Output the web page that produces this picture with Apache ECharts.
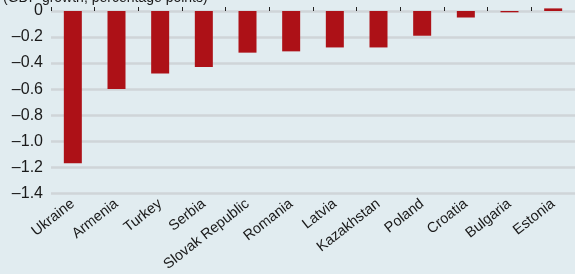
<!DOCTYPE html>
<html><head><meta charset="utf-8">
<script src="https://cdn.jsdelivr.net/npm/echarts@6/dist/echarts.min.js"></script>
<style>html,body{margin:0;padding:0;background:#e1ecf0;}#c{width:575px;height:274px;}</style>
</head><body><div id="c"></div>
<script>
const categories = ["Ukraine","Armenia","Turkey","Serbia","Slovak Republic","Romania","Latvia","Kazakhstan","Poland","Croatia","Bulgaria","Estonia"];
const values = [-1.17,-0.60,-0.48,-0.43,-0.32,-0.31,-0.28,-0.28,-0.19,-0.05,-0.01,0.02];
const subtitle = "(GDP growth, percentage points)";
const chart = echarts.init(document.getElementById('c'));
chart.setOption({
  backgroundColor:'#e1ecf0',
  animation:false,
  graphic:[{type:'text',left:3,top:-9,style:{text:subtitle,font:'14px "Liberation Sans"',fill:'#1a1a1a'}}],
  grid:{left:51,top:11,bottom:80,width:530,containLabel:false},
  xAxis:{type:'category',data:categories,
    axisLine:{show:false},
    axisTick:{show:true,inside:true,length:4,lineStyle:{color:'#222',width:1}},
    axisLabel:{rotate:38,interval:0,margin:9,color:'#1a1a1a',fontFamily:'Liberation Sans',fontSize:14.5}},
  yAxis:{type:'value',min:-1.4,max:0,interval:0.2,
    axisLine:{show:false},axisTick:{show:false},
    splitLine:{lineStyle:{color:'#cfd5d8',width:2.5}},
    axisLabel:{margin:8,color:'#1a1a1a',fontFamily:'Liberation Sans',fontSize:16,padding:[3,0,0,0],
      formatter:v=>{const r=Math.round(v*10)/10; return r===0?'0':(r<0?'\u2013':'')+Math.abs(r).toFixed(1);}}},
  series:[{type:'bar',data:values,barWidth:18,clip:false,itemStyle:{color:'#ad1117'}}]
});
</script></body></html>
